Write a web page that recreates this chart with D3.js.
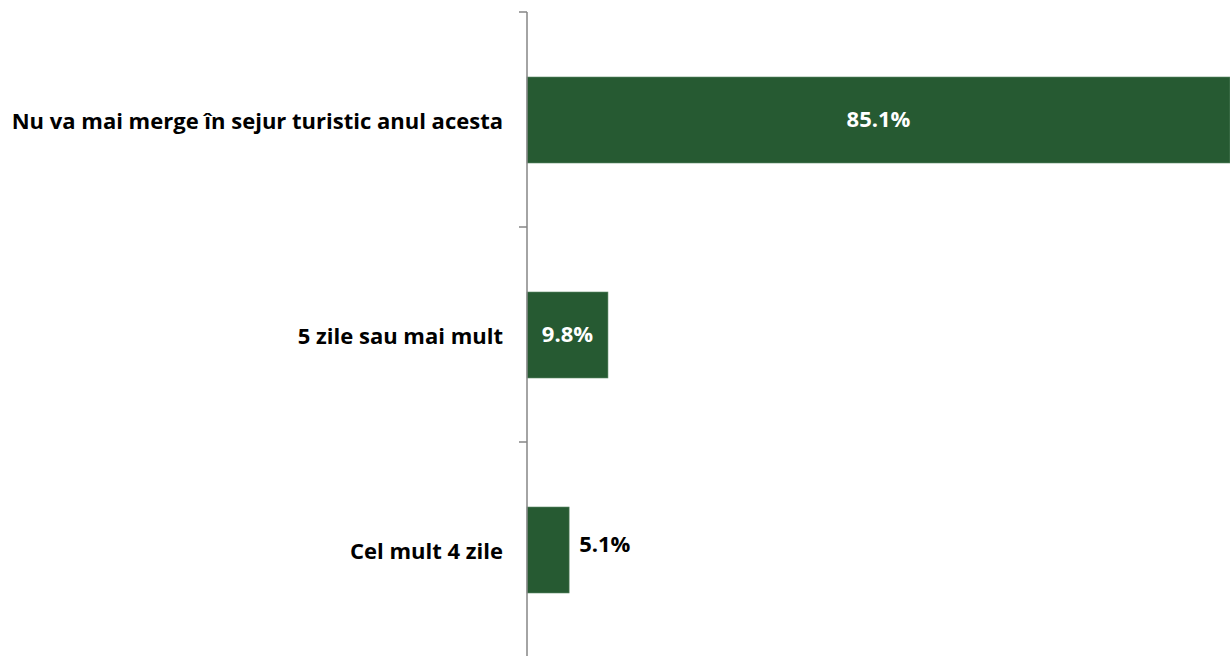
<!DOCTYPE html>
<html>
<head>
<meta charset="utf-8">
<script src="https://cdn.jsdelivr.net/npm/d3@7"></script>
<style>
  html, body { margin: 0; padding: 0; background: #ffffff; }
  svg { display: block; }
  text { font-family: "Open Sans", Lato, sans-serif; font-weight: 700; }
</style>
</head>
<body>
<svg id="chart" width="1230" height="656"></svg>
<script>
// Trip length planned for the rest of the year (share of respondents, %)
const categories = [
  "Nu va mai merge în sejur turistic anul acesta",
  "5 zile sau mai mult",
  "Cel mult 4 zile"
];
const values = [85.1, 9.8, 5.1];
const valueLabels = ["85.1%", "9.8%", "5.1%"];

const width = 1230, height = 656;
const margin = { top: 12, right: 0, bottom: -1, left: 527 };
const barColor = "#265a32";
const fontSize = 22;

const svg = d3.select("#chart");

const x = d3.scaleLinear()
  .domain([0, 85.1])
  .range([margin.left, width - margin.right]);

const y = d3.scaleBand()
  .domain(categories)
  .range([margin.top, height - margin.bottom])
  .paddingInner(0.6)
  .paddingOuter(0.3);

// Bars
svg.append("g")
  .selectAll("rect")
  .data(categories)
  .join("rect")
  .attr("x", x(0))
  .attr("y", d => y(d) + 0.5)
  .attr("width", (d, i) => x(values[i]) - x(0))
  .attr("height", y.bandwidth())
  .attr("fill", barColor)
  .attr("stroke", "#5f8a68")
  .attr("stroke-width", 0.6);

// Vertical category axis with tick marks between the bands
const boundaries = d3.range(categories.length + 1)
  .map(i => margin.top + i * (height - margin.bottom - margin.top) / categories.length);

const axis = svg.append("g").attr("stroke", "#868686").attr("stroke-width", 1.5);
axis.append("line")
  .attr("x1", x(0)).attr("x2", x(0))
  .attr("y1", boundaries[0]).attr("y2", height);
axis.selectAll("line.tick")
  .data(boundaries)
  .join("line")
  .attr("class", "tick")
  .attr("x1", x(0) - 8).attr("x2", x(0))
  .attr("y1", d => d).attr("y2", d => d);

// Category labels
svg.append("g")
  .selectAll("text")
  .data(categories)
  .join("text")
  .attr("x", x(0) - 24)
  .attr("y", d => y(d) + y.bandwidth() / 2 + 2)
  .attr("dy", "0.35em")
  .attr("text-anchor", "end")
  .attr("font-size", fontSize)
  .attr("fill", "#000000")
  .text(d => d);

// Value labels: inside the bar when it is wide enough, otherwise just past its end
svg.append("g")
  .selectAll("text")
  .data(categories)
  .join("text")
  .each(function (d, i) {
    const w = x(values[i]) - x(0);
    const inside = w > 60;
    d3.select(this)
      .attr("x", inside ? x(0) + w / 2 : x(values[i]) + 10)
      .attr("y", y(d) + y.bandwidth() / 2 - (inside ? 0 : 5))
      .attr("dy", "0.35em")
      .attr("text-anchor", inside ? "middle" : "start")
      .attr("fill", inside ? "#ffffff" : "#000000");
  })
  .attr("font-size", fontSize)
  .text((d, i) => valueLabels[i]);
</script>
</body>
</html>
